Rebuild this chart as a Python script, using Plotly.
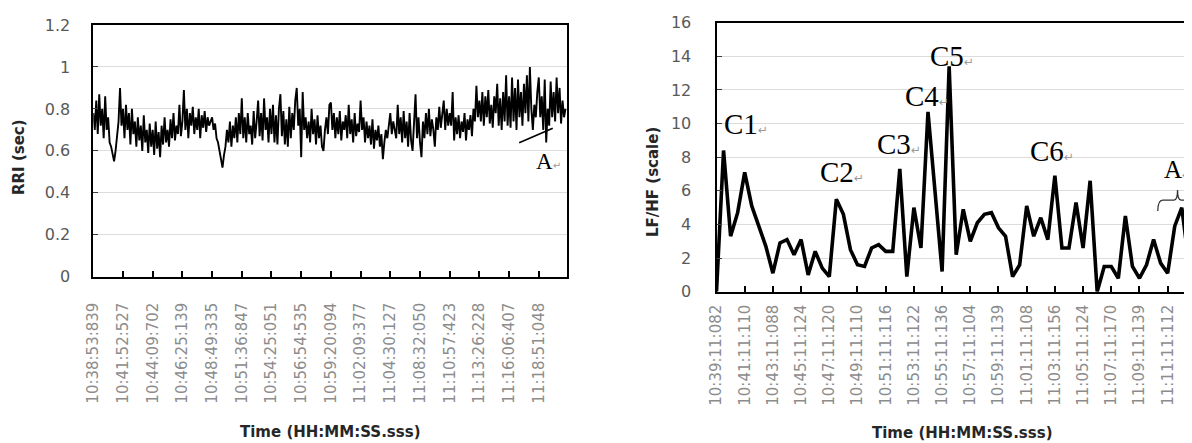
import plotly.graph_objects as go

# ---------------- data ----------------
rri_tick_labels = ["10:38:53:839", "10:41:52:527", "10:44:09:702", "10:46:25:139",
                   "10:48:49:335", "10:51:36:847", "10:54:25:051", "10:56:54:535",
                   "10:59:20:094", "11:02:09:377", "11:04:30:127", "11:08:32:050",
                   "11:10:57:423", "11:13:26:228", "11:16:06:407", "11:18:51:048"]

# RRI (sec): 20 samples per labelled interval
rri_values = [
    0.78, 0.70, 0.84, 0.68, 0.87, 0.72, 0.80, 0.66, 0.86, 0.70, 0.76, 0.64, 0.62, 0.58, 0.55, 0.60, 0.66, 0.74, 0.90, 0.72,
    0.80, 0.66, 0.82, 0.70, 0.78, 0.63, 0.80, 0.68, 0.74, 0.62, 0.76, 0.65, 0.72, 0.60, 0.77, 0.64, 0.70, 0.59, 0.73, 0.62,
    0.70, 0.58, 0.74, 0.61, 0.69, 0.57, 0.72, 0.63, 0.76, 0.64, 0.70, 0.62, 0.75, 0.66, 0.78, 0.65, 0.72, 0.68, 0.82, 0.67,
    0.74, 0.89, 0.70, 0.80, 0.66, 0.78, 0.72, 0.81, 0.68, 0.76, 0.70, 0.80, 0.66, 0.77, 0.71, 0.79, 0.69, 0.76, 0.72, 0.74,
    0.76, 0.70, 0.73, 0.66, 0.64, 0.60, 0.56, 0.52, 0.58, 0.62, 0.70, 0.64, 0.74, 0.62, 0.72, 0.66, 0.76, 0.64, 0.78, 0.68,
    0.85, 0.66, 0.76, 0.64, 0.78, 0.68, 0.72, 0.63, 0.79, 0.66, 0.74, 0.84, 0.67, 0.78, 0.65, 0.85, 0.70, 0.76, 0.64, 0.80,
    0.68, 0.82, 0.64, 0.77, 0.63, 0.80, 0.87, 0.67, 0.79, 0.63, 0.75, 0.62, 0.81, 0.66, 0.78, 0.70, 0.84, 0.90, 0.72, 0.80,
    0.57, 0.88, 0.70, 0.76, 0.66, 0.74, 0.64, 0.80, 0.68, 0.75, 0.63, 0.77, 0.66, 0.72, 0.62, 0.60, 0.70, 0.76, 0.68, 0.82,
    0.83, 0.70, 0.78, 0.66, 0.76, 0.68, 0.79, 0.65, 0.74, 0.70, 0.77, 0.66, 0.82, 0.68, 0.75, 0.64, 0.78, 0.67, 0.73, 0.69,
    0.84, 0.70, 0.76, 0.64, 0.74, 0.66, 0.72, 0.63, 0.75, 0.61, 0.70, 0.65, 0.72, 0.62, 0.68, 0.56, 0.64, 0.70, 0.66, 0.74,
    0.78, 0.68, 0.74, 0.70, 0.66, 0.82, 0.68, 0.76, 0.64, 0.79, 0.66, 0.74, 0.62, 0.78, 0.65, 0.60, 0.72, 0.87, 0.66, 0.76,
    0.64, 0.57, 0.74, 0.66, 0.78, 0.68, 0.80, 0.67, 0.75, 0.70, 0.62, 0.76, 0.70, 0.81, 0.71, 0.78, 0.84, 0.70, 0.80, 0.72,
    0.78, 0.72, 0.88, 0.65, 0.76, 0.68, 0.77, 0.66, 0.74, 0.69, 0.78, 0.65, 0.75, 0.70, 0.77, 0.67, 0.80, 0.74, 0.91, 0.76,
    0.84, 0.74, 0.88, 0.72, 0.86, 0.76, 0.89, 0.73, 0.82, 0.71, 0.86, 0.78, 0.92, 0.72, 0.85, 0.70, 0.88, 0.74, 0.96, 0.72,
    0.86, 0.71, 0.95, 0.74, 0.90, 0.70, 0.94, 0.76, 0.88, 0.72, 0.92, 0.78, 0.96, 0.74, 1.00, 0.80, 0.70, 0.82, 0.76, 0.88,
    0.95, 0.76, 0.86, 0.70, 0.94, 0.64, 0.80, 0.72, 0.93, 0.76, 0.88, 0.74, 0.95, 0.78, 0.90, 0.73, 0.84, 0.76, 0.80,
]
RRI_PER_INTERVAL = 20

lfhf_tick_labels = ["10:39:11:082", "10:41:11:110", "10:43:11:088", "10:45:11:124",
                    "10:47:11:120", "10:49:11:110", "10:51:11:116", "10:53:11:122",
                    "10:55:11:136", "10:57:11:104", "10:59:11:139", "11:01:11:108",
                    "11:03:11:156", "11:05:11:124", "11:07:11:170", "11:09:11:139",
                    "11:11:11:112"]
LFHF_PER_LABEL = 4

lfhf_values = [0.0, 8.4, 3.3, 4.7, 7.1, 5.1, 3.9, 2.7, 1.1, 2.9,
               3.1, 2.2, 3.1, 1.0, 2.4, 1.4, 0.9, 5.5, 4.6, 2.5,
               1.6, 1.5, 2.6, 2.8, 2.4, 2.4, 7.3, 0.9, 5.0, 2.6,
               10.7, 5.9, 1.2, 13.4, 2.2, 4.9, 3.0, 4.1, 4.6, 4.7,
               3.8, 3.3, 0.9, 1.6, 5.1, 3.3, 4.4, 3.1, 6.9, 2.6,
               2.6, 5.3, 2.6, 6.6, 0.0, 1.5, 1.5, 0.8, 4.5, 1.5,
               0.8, 1.6, 3.1, 1.7, 1.1, 3.9, 5.0, 1.7, 1.8]

# peak labels: (text, x of label's left edge in sample units, label height)
peak_labels = [("C1", 0.74, 9.98), ("C2", 14.4, 7.12), ("C3", 22.5, 8.79),
               ("C4", 26.45, 11.65), ("C5", 30.0, 14.03), ("C6", 44.2, 8.37),
               ("A", 63.2, 7.24)]

# ---------------- figure ----------------
# the page body has an 8px margin, so the figure is drawn 8px in from the corner
OFF = 8
W, H = 1192 - OFF, 443 - OFF

def px_x(p):
    return (p - OFF) / W

def px_y(p):
    return 1 - (p - OFF) / H

rri_x = [i / RRI_PER_INTERVAL for i in range(len(rri_values))]
lfhf_x = list(range(len(lfhf_values)))

fig = go.Figure()
fig.add_trace(go.Scatter(x=rri_x, y=rri_values, mode="lines",
                         line=dict(color="black", width=1.9),
                         xaxis="x", yaxis="y", showlegend=False, hoverinfo="skip"))
fig.add_trace(go.Scatter(x=lfhf_x, y=lfhf_values, mode="lines",
                         line=dict(color="black", width=3.6),
                         xaxis="x2", yaxis="y2", showlegend=False, hoverinfo="skip"))

xtick_font = dict(family="DejaVu Sans", size=15, color="#8c8c8c")
ytick_font = dict(family="DejaVu Sans", size=16, color="#595959")

fig.update_layout(
    width=W, height=H,
    margin=dict(l=0, r=0, t=0, b=0, autoexpand=False),
    paper_bgcolor="white", plot_bgcolor="white",
    xaxis=dict(domain=[px_x(93.3), px_x(567)], range=[0, 15.95], automargin=False,
               tickmode="array", tickvals=list(range(len(rri_tick_labels))),
               ticktext=rri_tick_labels, tickangle=-90, tickfont=xtick_font,
               ticks="inside", ticklen=6, tickcolor="black", tickwidth=1.5,
               showline=True, linecolor="black", linewidth=1.8, mirror=True,
               showgrid=False, zeroline=False, ticklabelstandoff=18),
    yaxis=dict(domain=[px_y(276.7), px_y(25)], range=[0, 1.2], dtick=0.2, automargin=False,
               tickfont=ytick_font, ticks="inside", ticklen=5, tickcolor="#404040",
               showline=True, linecolor="black", linewidth=1.8, mirror=True,
               showgrid=True, gridcolor="#dcdcdc", gridwidth=1, zeroline=False,
               ticklabelstandoff=18),
    xaxis2=dict(domain=[px_x(716.5), 1.0], range=[0, 67.45], anchor="y2", automargin=False,
                tickmode="array",
                tickvals=[k * LFHF_PER_LABEL for k in range(len(lfhf_tick_labels))],
                ticktext=lfhf_tick_labels, tickangle=-90, tickfont=xtick_font,
                ticks="inside", ticklen=6, tickcolor="black", tickwidth=1.5,
                showline=True, linecolor="black", linewidth=2, mirror=True,
                showgrid=False, zeroline=False, ticklabelstandoff=5),
    yaxis2=dict(domain=[px_y(291.7), px_y(22.7)], range=[0, 16], dtick=2, anchor="x2",
                automargin=False,
                tickfont=ytick_font, ticks="inside", ticklen=5, tickcolor="#404040",
                showline=True, linecolor="black", linewidth=2, mirror=False,
                showgrid=True, gridcolor="#dcdcdc", gridwidth=1, zeroline=False,
                ticklabelstandoff=20),
)

def ret(size):
    return ("<span style='font-family:DejaVu Sans;font-size:%dpx;color:#9a9a9a'>↵</span>" % size)

serif = dict(family="Liberation Serif", size=29, color="black")

anns = []
for txt, xv, yv in peak_labels:
    if txt == "A":
        anns.append(dict(x=xv, y=yv, xref="x2", yref="y2", text=txt + ret(9),
                         showarrow=False, xanchor="left", yanchor="middle",
                         font=dict(serif, size=25)))
    else:
        anns.append(dict(x=xv, y=yv, xref="x2", yref="y2", text=txt + ret(12),
                         showarrow=False, xanchor="left", yanchor="middle", font=serif))

# left chart "A" label
anns.append(dict(x=14.84, y=0.547, xref="x", yref="y", text="A" + ret(10), showarrow=False,
                 xanchor="left", yanchor="middle",
                 font=dict(family="Liberation Serif", size=23, color="black")))

# axis titles
title_font = dict(family="DejaVu Sans", size=15, color="#262626")
anns += [
    dict(x=px_x(330), y=px_y(432), xref="paper", yref="paper", text="<b>Time (HH:MM:SS.sss)</b>",
         showarrow=False, font=title_font, xanchor="center", yanchor="middle"),
    dict(x=px_x(962), y=px_y(433), xref="paper", yref="paper", text="<b>Time (HH:MM:SS.sss)</b>",
         showarrow=False, font=title_font, xanchor="center", yanchor="middle"),
    dict(x=px_x(19), y=px_y(157), xref="paper", yref="paper", text="<b>RRI (sec)</b>",
         showarrow=False, font=title_font, textangle=-90, xanchor="center", yanchor="middle"),
    dict(x=px_x(653), y=px_y(182), xref="paper", yref="paper", text="<b>LF/HF (scale)</b>",
         showarrow=False, font=title_font, textangle=-90, xanchor="center", yanchor="middle"),
]
fig.update_layout(annotations=anns)

fig.update_layout(shapes=[
    # pointer line for "A" on the RRI chart
    dict(type="line", xref="x", yref="y", x0=14.34, y0=0.639, x1=15.47, y1=0.708,
         line=dict(color="black", width=1.6)),
    # curly brace over segment "A" on the LF/HF chart
    dict(type="path", xref="x2", yref="y2",
         path="M 62.6,4.8 Q 62.6,5.45 63.3,5.45 L 64.9,5.45 Q 65.4,5.45 65.4,6.05 "
              "Q 65.4,5.45 65.9,5.45 L 67.5,5.45 Q 68.2,5.45 68.2,4.8",
         line=dict(color="#333333", width=1.3)),
])

fig.write_html("out.html")
